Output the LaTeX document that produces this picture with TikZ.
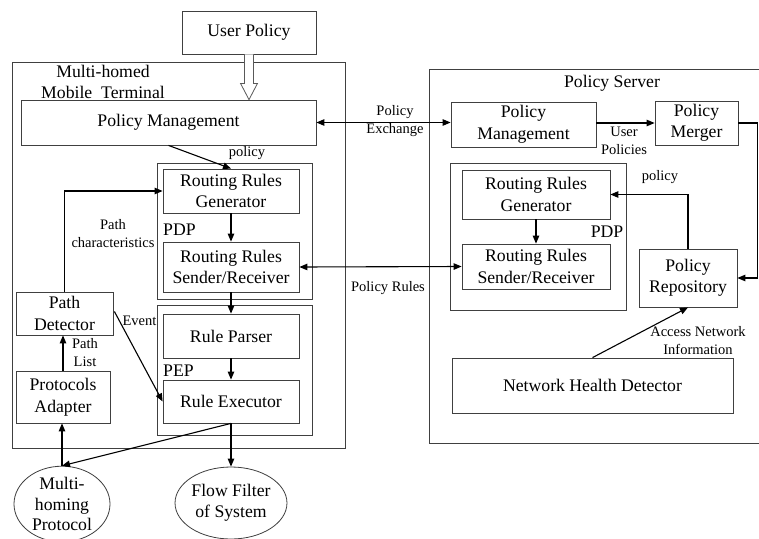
\documentclass[tikz,border=0pt]{standalone}
\usepackage{fontspec}
\setmainfont{Liberation Serif}
\usetikzlibrary{arrows.meta,shapes.geometric,calc}
\begin{document}
\begin{tikzpicture}[x=1pt,y=-1pt,
  box/.style={draw=black!75, line width=0.8pt, align=center, inner sep=0pt,
              font=\fontsize{17.7}{21.5}\selectfont},
  oval/.style={ellipse, draw=black!75, line width=0.8pt, align=center, inner sep=0pt,
               font=\fontsize{17.7}{20.5}\selectfont},
  lbl/.style={align=center, inner sep=0pt, font=\fontsize{14.5}{18}\selectfont},
  big/.style={align=center, inner sep=0pt, font=\fontsize{17.7}{21.5}\selectfont},
  conn/.style={draw=black, line width=1.1pt, -{Triangle[length=8pt,width=6.5pt]}},
  dconn/.style={draw=black, line width=1.1pt, {Triangle[length=8pt,width=6.5pt]}-{Triangle[length=8pt,width=6.5pt]}}]
\useasboundingbox (0,0) rectangle (759,538);
\clip (0,0) rectangle (759,538);
\fill[white] (0,0) rectangle (759,538);

% ---------------- mobile terminal ----------------
\node[box, minimum width=134pt, minimum height=43pt] (userpol) at (249,32.5) {User Policy};
\node[box, minimum width=333pt, minimum height=386pt] (term) at (178.5,255) {};
\node[big] (termtitle) at (103,82) {Multi-homed\\Mobile~ Terminal};
\node[box, minimum width=295pt, minimum height=45pt] (tpm) at (168.5,122.5) {Policy Management};

\node[box, minimum width=155pt, minimum height=136pt] (tpdp) at (234.5,231) {};
\node[box, minimum width=136pt, minimum height=44pt] (trrg) at (231,191) {Routing Rules\\Generator};
\node[box, minimum width=136pt, minimum height=50pt] (trrs) at (231,267) {Routing Rules\\Sender/Receiver};
\node[big, anchor=west] (tpdplbl) at (163,230) {PDP};

\node[box, minimum width=155pt, minimum height=130pt] (tpep) at (234.5,370) {};
\node[box, minimum width=136pt, minimum height=44pt] (trp) at (231,336) {Rule Parser};
\node[box, minimum width=136pt, minimum height=43pt] (tre) at (231,401.5) {Rule Executor};
\node[big, anchor=west] (tpeplbl) at (163,371) {PEP};

\node[box, minimum width=97pt, minimum height=43pt] (pd) at (64.5,313.5) {Path\\Detector};
\node[box, minimum width=94pt, minimum height=52pt] (pa) at (63,397) {Protocols\\Adapter};

\node[oval, minimum width=96pt, minimum height=74pt] (mhp) at (62,504) {Multi-\\homing\\Protocol};
\node[oval, minimum width=96pt, minimum height=72pt] (ffs) at (231,503) {Flow Filter\\of System};

% hollow arrow from the user policy into the policy management
\draw[draw=black!65, line width=0.8pt, fill=white]
  ($(userpol.south)+(-4.5,0)$) -- ($(userpol.south)+(-4.5,29)$) -- ($(userpol.south)+(-8.5,29)$)
  -- (userpol.south |- tpm.north) -- ($(userpol.south)+(8.5,29)$) -- ($(userpol.south)+(4.5,29)$)
  -- ($(userpol.south)+(4.5,0)$);

\draw[conn] (tpm.south) -- (trrg.north);
\node[lbl] (polterm) at (247,153) {policy};
\draw[conn] (trrg.south) -- (trrs.north);
\draw[conn] (trrs.south) -- (trp.north);
\draw[conn] (trp.south) -- (tre.north);
\draw[conn] (pa.north) -- (pa.north |- pd.south);
\node[lbl] (pathlist) at (85,353) {Path\\List};
\draw[conn] (pd.north) |- (trrg.west);
\node[lbl] (pathchar) at (113,234) {Path\\characteristics};
\draw[conn] ($(pd.east)+(1,-2)$) -- (tre.west);
\node[lbl] (eventlbl) at (139.5,321) {Event};
\draw[conn] (tre.south) -- (ffs.north);
\draw[conn] (tre.south) -- (mhp.north);
\draw[conn] (mhp.north) -- (mhp.north |- pa.south);

% ---------------- policy server ----------------
\draw[draw=black!75, line width=0.8pt] (765,69) -- (429,69) -- (429,443) -- (765,443);
\node[big] (pstitle) at (612,83) {Policy Server};
\node[box, minimum width=145pt, minimum height=45pt] (spm) at (523.5,124.5) {Policy\\Management};
\node[box, minimum width=83pt, minimum height=44pt] (smerge) at (696.5,123) {Policy\\Merger};
\node[box, minimum width=176pt, minimum height=147pt] (spdp) at (538,236.5) {};
\node[box, minimum width=148pt, minimum height=49pt] (srrg) at (536,194.5) {Routing Rules\\Generator};
\node[box, minimum width=148pt, minimum height=45pt] (srrs) at (536,266.5) {Routing Rules\\Sender/Receiver};
\node[big] (spdplbl) at (607,232) {PDP};
\node[box, minimum width=98pt, minimum height=58pt] (srepo) at (688,278) {Policy\\Repository};
\node[box, minimum width=281pt, minimum height=55pt] (nhd) at (592.5,385.5) {Network Health Detector};

\draw[dconn] (tpm.east) -- (tpm.east -| spm.west);
\node[lbl] (polex) at (395,121) {Policy\\Exchange};
\draw[conn] (spm.east |- smerge.west) -- (smerge.west);
\node[lbl] (userpols) at (624,141) {User\\Policies};
\draw[conn] (smerge.east) -- ++(19,0) |- (srepo.east);
\draw[conn] (srepo.north) |- (srrg.east);
\node[lbl] (polsrv) at (660,177) {policy};
\draw[conn] (srrg.south) -- (srrs.north);
\draw[dconn] (trrs.east) -- (srrs.west);
\node[lbl] (polrules) at (388,288) {Policy Rules};
\draw[conn] (nhd.north) -- (srepo.south);
\node[lbl] (accnet) at (698,341) {Access Network\\Information};
\end{tikzpicture}
\end{document}
